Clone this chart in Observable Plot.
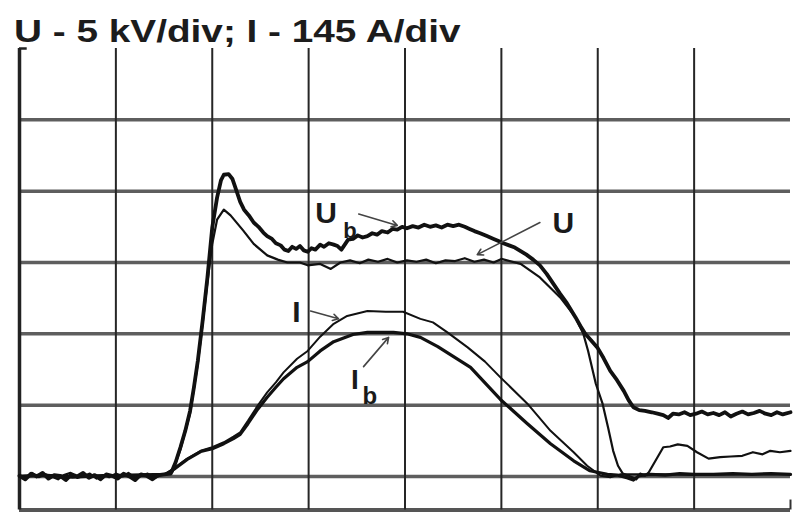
<!DOCTYPE html>
<html><head><meta charset="utf-8">
<script src="https://cdn.jsdelivr.net/npm/d3@7"></script>
<script src="https://cdn.jsdelivr.net/npm/@observablehq/plot@0.6"></script>
<style>
body{margin:0;background:#fff;width:800px;height:519px;overflow:hidden}
#title{height:46px;position:relative;}
#title span{position:absolute;left:14px;top:16px;font:bold 31px "Liberation Sans",Arial,sans-serif;color:#1c1c1c;transform:scaleX(1.25);transform-origin:0 0;white-space:nowrap;line-height:1}
#chart svg{display:block}
</style></head><body>
<div id="title"><span>U - 5 kV/div; I - 145 A/div</span></div>
<div id="chart"></div>
<script>
// grid (divisions)
const vLines = [1, 2, 3, 4, 5, 6, 7];
const hLines = [0, 1, 2, 3, 4, 5];
const xDomain = [0, 8];
const yDomain = [-0.47, 6];

// traces: [time (div), value (div)]
const Ub = [
  [0.00,0.01],[0.06,-0.04],[0.12,0.04],[0.18,0.00],[0.24,0.05],[0.30,-0.03],[0.36,0.02],[0.42,0.01],[0.48,-0.05],[0.54,0.03],
  [0.60,0.00],[0.66,0.05],[0.72,-0.02],[0.78,0.02],[0.84,-0.04],[0.90,0.03],[0.96,0.01],[1.02,-0.03],[1.08,0.04],[1.14,0.00],
  [1.20,-0.05],[1.26,0.03],[1.32,0.01],[1.38,-0.04],[1.44,0.02],[1.50,0.03],
  [1.57,0.04],[1.62,0.20],[1.67,0.41],[1.72,0.64],[1.77,0.92],[1.81,1.25],[1.85,1.62],[1.90,2.18],[1.95,2.79],[2.00,3.49],
  [2.05,3.91],[2.09,4.15],[2.12,4.23],[2.17,4.24],[2.21,4.17],[2.25,4.01],[2.29,3.85],[2.33,3.74],[2.38,3.66],[2.43,3.56],
  [2.48,3.50],[2.53,3.42],[2.57,3.37],[2.62,3.33],[2.66,3.27],[2.71,3.24],[2.75,3.18],[2.79,3.16],[2.83,3.22],[2.87,3.19],
  [2.91,3.23],[2.95,3.17],[2.99,3.15],[3.03,3.20],[3.07,3.18],[3.12,3.25],[3.16,3.22],[3.21,3.27],[3.26,3.25],[3.30,3.23],
  [3.34,3.18],[3.37,3.24],[3.41,3.32],[3.46,3.33],[3.51,3.38],[3.56,3.35],[3.61,3.37],[3.66,3.41],[3.71,3.39],[3.76,3.44],
  [3.82,3.42],[3.87,3.47],[3.92,3.46],[3.97,3.50],[4.02,3.48],[4.08,3.51],[4.14,3.49],[4.20,3.53],[4.26,3.50],[4.32,3.52],
  [4.38,3.49],[4.44,3.53],[4.50,3.51],[4.56,3.53],[4.62,3.50],[4.67,3.47],[4.72,3.44],[4.78,3.41],[4.85,3.37],[4.92,3.33],
  [4.97,3.30],[5.02,3.27],[5.08,3.24],[5.14,3.21],[5.20,3.16],[5.26,3.11],[5.33,3.04],[5.40,2.96],[5.47,2.84],[5.54,2.70],
  [5.61,2.56],[5.68,2.43],[5.77,2.23],[5.82,2.11],[5.87,2.00],[5.93,1.91],[6.00,1.80],[6.06,1.66],[6.13,1.48],[6.20,1.35],
  [6.27,1.20],[6.32,1.07],[6.37,0.97],[6.43,0.93],[6.49,0.92],[6.56,0.90],[6.62,0.88],[6.68,0.86],[6.73,0.82],[6.78,0.88],
  [6.84,0.87],[6.90,0.90],[6.96,0.86],[7.02,0.88],[7.08,0.91],[7.14,0.87],[7.20,0.89],[7.26,0.86],[7.32,0.90],[7.38,0.84],
  [7.44,0.88],[7.50,0.91],[7.56,0.87],[7.62,0.89],[7.68,0.92],[7.74,0.88],[7.80,0.86],[7.86,0.90],[7.92,0.87],[8.00,0.90]
];
const U = [
  [0.00,0.02],[0.07,-0.03],[0.13,0.05],[0.20,-0.01],[0.27,0.03],[0.33,0.00],[0.40,-0.04],[0.46,0.02],[0.53,0.05],[0.60,-0.02],
  [0.67,0.01],[0.73,0.04],[0.80,-0.03],[0.87,0.02],[0.93,-0.01],[1.00,0.04],[1.07,0.00],[1.13,0.05],[1.20,-0.02],[1.27,0.01],
  [1.33,0.04],[1.40,-0.02],[1.47,0.02],[1.52,0.03],
  [1.59,0.07],[1.67,0.38],[1.77,0.88],[1.85,1.58],[1.90,2.14],[1.95,2.72],[2.00,3.26],[2.05,3.60],[2.12,3.74],[2.19,3.66],
  [2.32,3.45],[2.43,3.26],[2.57,3.10],[2.68,3.04],[2.78,3.00],[2.91,3.00],[2.99,2.96],[3.12,2.98],[3.23,2.91],[3.33,3.00],
  [3.43,3.03],[3.53,2.99],[3.62,3.04],[3.72,3.01],[3.82,3.05],[3.92,3.00],[4.02,3.03],[4.12,3.01],[4.22,3.04],[4.32,2.99],
  [4.42,3.03],[4.52,3.02],[4.62,3.06],[4.72,3.01],[4.82,3.04],[4.92,3.00],[5.00,3.05],
  [5.20,2.98],[5.40,2.79],[5.61,2.51],[5.77,2.23],[5.85,2.00],[5.90,1.76],[5.98,1.30],[6.05,1.02],[6.11,0.67],[6.16,0.36],
  [6.21,0.15],[6.26,0.04],[6.34,0.00],[6.40,-0.04],[6.44,0.04],[6.49,0.01],[6.53,0.06],[6.62,0.27],[6.68,0.41],[6.75,0.42],
  [6.83,0.45],[6.93,0.43],[7.03,0.34],[7.15,0.25],[7.27,0.27],[7.38,0.28],[7.50,0.29],[7.61,0.34],[7.71,0.31],[7.79,0.36],
  [7.89,0.34],[8.00,0.36]
];
const I = [
  [0.00,0.01],[0.30,0.02],[0.60,0.00],[0.90,0.02],[1.20,0.01],[1.51,0.03],
  [1.60,0.11],[1.74,0.25],[1.88,0.36],[2.00,0.41],[2.12,0.48],[2.22,0.56],[2.29,0.62],[2.37,0.78],[2.47,0.99],[2.57,1.18],
  [2.66,1.32],[2.74,1.46],[2.88,1.65],[2.99,1.76],[3.12,1.96],[3.26,2.14],[3.40,2.25],[3.61,2.32],[3.80,2.31],[3.98,2.31],
  [4.16,2.21],[4.29,2.16],[4.44,2.02],[4.65,1.81],[4.83,1.61],[4.99,1.39],[5.27,1.02],[5.51,0.64],[5.75,0.34],[5.89,0.15],
  [6.03,0.01],[6.13,-0.01],[6.23,0.03],[6.44,0.03],[6.70,0.03],[7.00,0.02],[7.50,0.03],[8.00,0.03]
];
const Ib = [
  [0.00,0.00],[0.25,0.02],[0.55,-0.01],[0.85,0.01],[1.15,0.02],[1.51,0.03],
  [1.60,0.10],[1.74,0.24],[1.88,0.35],[2.00,0.39],[2.12,0.46],[2.22,0.53],[2.29,0.59],[2.37,0.74],[2.47,0.94],[2.57,1.11],
  [2.66,1.25],[2.74,1.37],[2.88,1.53],[2.99,1.61],[3.12,1.76],[3.26,1.89],[3.46,1.99],[3.61,2.02],[3.88,2.02],[4.02,2.00],
  [4.16,1.95],[4.34,1.82],[4.68,1.53],[4.99,1.08],
  [5.27,0.74],[5.51,0.46],[5.75,0.22],[5.92,0.08],[6.10,0.03],[6.20,0.02],[6.31,-0.02],[6.37,-0.05],[6.43,0.01],[6.55,0.03],
  [6.70,0.02],[6.85,0.04],[7.00,0.03],[7.20,0.03],[7.40,0.04],[7.60,0.03],[7.80,0.04],[8.00,0.03]
];

// labels
const labelText = ["U", "b", "U", "I", "I", "b"];
const labelX    = [3.07, 3.36, 5.53, 2.83, 3.44, 3.56];
const labelY    = [3.56, 3.35, 3.42, 2.16, 1.23, 1.02];
const labelSize = [30, 22, 30, 30, 28, 24];
// pointer lines [x1, y1, x2, y2]
const pointers = [
  [3.52, 3.68, 3.92, 3.52],
  [5.40, 3.56, 4.75, 3.11],
  [3.02, 2.32, 3.31, 2.21],
  [3.57, 1.54, 3.83, 1.95]
];

const labels = labelText.map((t, i) => ({t, x: labelX[i], y: labelY[i], s: labelSize[i]}));
const lx = d => d[0], ly = d => d[1];

const chart = Plot.plot({
  width: 800, height: 473,
  marginTop: 2, marginBottom: 9.5, marginLeft: 19, marginRight: 10,
  x: {domain: xDomain, axis: null},
  y: {domain: yDomain, axis: null},
  style: {background: "#fff", overflow: "visible"},
  marks: [
    Plot.ruleY(hLines, {x1: 0, x2: 8, stroke: "#5e5e5e", strokeWidth: 3.5}),
    Plot.ruleY([yDomain[0]], {x1: 0, x2: 8, stroke: "#555", strokeWidth: 4}),
    Plot.ruleX(vLines, {y1: yDomain[0], y2: yDomain[1], stroke: "#262626", strokeWidth: 2}),
    Plot.ruleX([0], {y1: yDomain[0], y2: yDomain[1], stroke: "#222", strokeWidth: 3.5}),
    Plot.ruleY([yDomain[1]], {x1: 0, x2: 0.08, stroke: "#222", strokeWidth: 2.5}),
    Plot.ruleX([8], {y1: yDomain[0], y2: -0.33, stroke: "#333", strokeWidth: 2}),
    Plot.line(I, {x: lx, y: ly, stroke: "#111", strokeWidth: 2, strokeLinejoin: "round"}),
    Plot.line(Ib, {x: lx, y: ly, stroke: "#111", strokeWidth: 3.2, strokeLinejoin: "round"}),
    Plot.line(U, {x: lx, y: ly, stroke: "#111", strokeWidth: 2.2, strokeLinejoin: "round"}),
    Plot.line(Ub, {x: lx, y: ly, stroke: "#111", strokeWidth: 3.8, strokeLinejoin: "round"}),
    Plot.arrow(pointers, {x1: d => d[0], y1: d => d[1], x2: d => d[2], y2: d => d[3], stroke: "#444", strokeWidth: 1.6, headLength: 6}),
    Plot.text(labels, {x: "x", y: "y", text: "t", fontSize: d => d.s, textAnchor: "start", lineAnchor: "bottom",
      fontFamily: "Liberation Sans, Arial, sans-serif", fontWeight: "bold", fill: "#1a1a1a"})
  ]
});
document.getElementById("chart").appendChild(chart);
</script>
</body></html>
